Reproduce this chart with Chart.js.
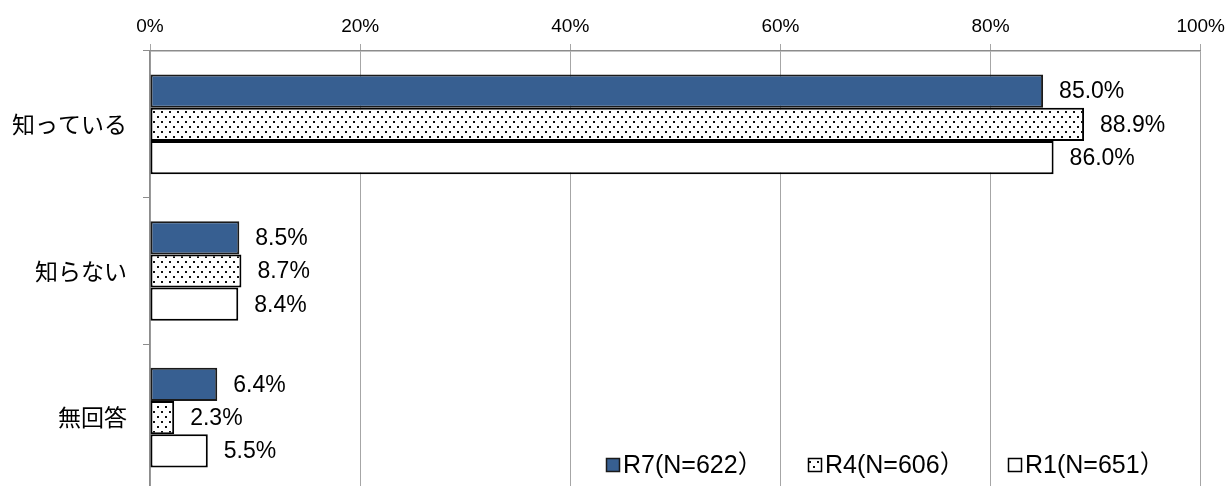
<!DOCTYPE html>
<html>
<head>
<meta charset="utf-8">
<script src="https://cdn.jsdelivr.net/npm/chart.js@4"></script>
<style>
  html, body { margin: 0; padding: 0; background: #fff; overflow: hidden; }
  #wrap { width: 1231px; height: 496px; }
</style>
</head>
<body>
<div id="wrap"><canvas id="barChart" width="1231" height="496"></canvas></div>
<script>
const categories = ['知っている', '知らない', '無回答'];
const seriesNames = ['R7(N=622）', 'R4(N=606）', 'R1(N=651）'];
const r7Values = [85.0, 8.5, 6.4];
const r4Values = [88.9, 8.7, 2.3];
const r1Values = [86.0, 8.4, 5.5];
const xTicks = [0, 20, 40, 60, 80, 100];

const LATIN = '"Liberation Sans", Arial, "Noto Sans CJK JP", sans-serif';
const JP = '"Noto Sans CJK JP", sans-serif';

const ctxBar = document.getElementById('barChart').getContext('2d');

// dotted fill like the office pattern
function makeDots() {
  const c = document.createElement('canvas');
  c.width = 8; c.height = 10;
  const g = c.getContext('2d');
  g.fillStyle = '#fff';
  g.fillRect(0, 0, 8, 10);
  g.fillStyle = '#111';
  g.fillRect(1, 1, 2, 2);
  g.fillRect(5, 6, 2, 2);
  return ctxBar.createPattern(c, 'repeat');
}
const dots = makeDots();

const fills = ['#375f91', dots, '#ffffff'];
const borders = ['#1a1a1a', '#000000', '#000000'];

// value labels right of each bar
const valueLabels = {
  id: 'valueLabels',
  afterDatasetsDraw(chart) {
    const ctx = chart.ctx;
    ctx.save();
    ctx.font = '23px ' + LATIN;
    ctx.fillStyle = '#000';
    ctx.textAlign = 'left';
    ctx.textBaseline = 'middle';
    chart.data.datasets.forEach((ds, i) => {
      chart.getDatasetMeta(i).data.forEach((bar, j) => {
        ctx.fillText(ds.data[j].toFixed(1) + '%', bar.x + 16, bar.y + 1);
      });
    });
    ctx.restore();
  }
};

// legend sitting in the lower right of the plot
const boxLegend = {
  id: 'boxLegend',
  afterDraw(chart) {
    const ctx = chart.ctx;
    const xs = [606, 808, 1008];
    const y = 465;
    ctx.save();
    ctx.font = '25px ' + LATIN;
    ctx.textBaseline = 'middle';
    ctx.textAlign = 'left';
    seriesNames.forEach((name, i) => {
      ctx.fillStyle = fills[i];
      ctx.fillRect(xs[i], y - 7, 14, 14);
      ctx.strokeStyle = borders[i];
      ctx.lineWidth = 1.5;
      ctx.strokeRect(xs[i] + 0.5, y - 6.5, 13, 13);
      ctx.fillStyle = '#000';
      ctx.fillText(name, xs[i] + 17, y + 1);
    });
    ctx.restore();
  }
};

new Chart(ctxBar, {
  type: 'bar',
  data: {
    labels: categories,
    datasets: [r7Values, r4Values, r1Values].map((vals, i) => ({
      label: seriesNames[i],
      data: vals,
      backgroundColor: fills[i],
      borderColor: borders[i],
      borderWidth: 2,
      borderSkipped: false,
      categoryPercentage: 0.68,
      barPercentage: 1.0,
    })),
  },
  options: {
    indexAxis: 'y',
    responsive: false,
    animation: false,
    layout: { padding: { left: 0, right: 29, top: 0, bottom: 5 } },
    plugins: {
      legend: { display: false },
      tooltip: { enabled: false },
    },
    scales: {
      x: {
        position: 'top',
        min: 0,
        max: 100,
        afterBuildTicks(scale) {
          scale.ticks = xTicks.map(v => ({ value: v }));
        },
        afterFit(scale) { scale.height = 51; },
        ticks: {
          callback: v => v + '%',
          font: { size: 19, family: LATIN },
          color: '#000',
          padding: 6,
        },
        grid: { color: '#a6a6a6', lineWidth: 1, tickLength: 7 },
        border: { color: '#8c8c8c', width: 1.5 },
      },
      y: {
        afterFit(scale) {
          scale.width = 150;
          scale.paddingTop = 0;
          scale.paddingBottom = 0;
        },
        ticks: {
          font: { size: 23, family: JP },
          color: '#000',
          padding: 16,
        },
        grid: { drawOnChartArea: false, color: '#8c8c8c', tickLength: 7, offset: true },
        border: { color: '#8c8c8c', width: 1.5 },
      },
    },
  },
  plugins: [valueLabels, boxLegend],
});
</script>
</body>
</html>
